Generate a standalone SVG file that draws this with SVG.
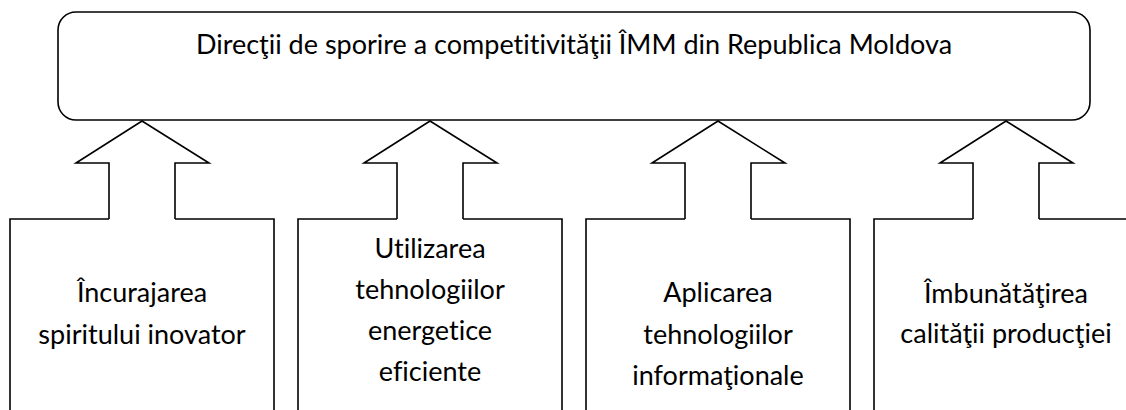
<svg xmlns="http://www.w3.org/2000/svg" width="1126" height="410" viewBox="0 0 1126 410">
<style>
.ln{fill:none;stroke:#000;stroke-width:1.6;stroke-linejoin:miter}
.t{font-family:Lato,"Open Sans","Liberation Sans",sans-serif;font-size:27px;fill:#000;text-anchor:middle;font-variant-ligatures:none}
</style>
<rect width="1126" height="410" fill="#fff"/>
<g id="top">
<rect class="ln" x="58" y="12" width="1032" height="108" rx="18" ry="18"/>
<text class="t" x="574" y="54">Direcţii de sporire a competitivităţii ÎMM din Republica Moldova</text>
</g>
<g id="connectors">
<polyline class="ln" points="109,219 109,163 76,163 142,121 209,163 175,163 175,219"/>
<polyline class="ln" points="397,219 397,163 364,163 430,121 497,163 463,163 463,219"/>
<polyline class="ln" points="685,219 685,163 652,163 718,121 785,163 751,163 751,219"/>
<polyline class="ln" points="973,219 973,163 940,163 1006,121 1073,163 1039,163 1039,219"/>
</g>
<g id="box1">
<path class="ln" d="M10,414 V219 H109 M175,219 H274 V414"/>
<text class="t" x="142" y="302">Încurajarea</text>
<text class="t" x="142" y="344">spiritului inovator</text>
</g>
<g id="box2">
<path class="ln" d="M298,414 V219 H397 M463,219 H562 V414"/>
<text class="t" x="430" y="258">Utilizarea</text>
<text class="t" x="430" y="299">tehnologiilor</text>
<text class="t" x="430" y="340">energetice</text>
<text class="t" x="430" y="381">eficiente</text>
</g>
<g id="box3">
<path class="ln" d="M586,414 V219 H685 M751,219 H850 V414"/>
<text class="t" x="718" y="302">Aplicarea</text>
<text class="t" x="718" y="344">tehnologiilor</text>
<text class="t" x="718" y="385">informaţionale</text>
</g>
<g id="box4">
<path class="ln" d="M874,414 V219 H973 M1039,219 H1138"/>
<text class="t" x="1006" y="303">Îmbunătăţirea</text>
<text class="t" x="1006" y="343">calităţii producţiei</text>
</g>
</svg>
